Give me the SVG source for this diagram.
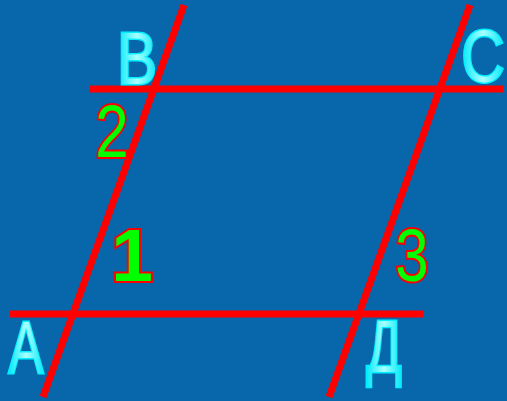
<svg xmlns="http://www.w3.org/2000/svg" width="507" height="401" viewBox="0 0 507 401">
<defs>
<linearGradient id="cy" x1="0" y1="0" x2="1" y2="0">
<stop offset="0" stop-color="#00e8f8"/>
<stop offset="0.5" stop-color="#aaffff"/>
<stop offset="1" stop-color="#00e8f8"/>
</linearGradient>
</defs>
<style>
.ln{stroke:#ff0000;stroke-width:7;fill:none}
.lt{font-family:"Liberation Sans",Arial,sans-serif;font-size:75px;fill:url(#cy);stroke:#00f0ff;stroke-width:3;paint-order:stroke;text-anchor:middle}
.nm{font-family:"Liberation Sans",Arial,sans-serif;font-size:75px;fill:#00ff00;stroke:#ff0000;stroke-width:4;paint-order:stroke;text-anchor:middle}
</style>
<rect width="507" height="401" fill="#0866aa"/>
<g id="connectors">
<line class="ln" x1="90" y1="89" x2="503" y2="89"/>
<line class="ln" x1="10" y1="314" x2="423" y2="314"/>
<line class="ln" x1="184" y1="5" x2="43" y2="397"/>
<line class="ln" x1="470" y1="5" x2="329" y2="397"/>
</g>
<g id="B"><text class="lt" transform="translate(137,84) scale(0.8,1)">B</text></g>
<g id="C"><text class="lt" transform="translate(483,82) scale(0.8,1)">C</text></g>
<g id="A"><text class="lt" transform="translate(26,373) scale(0.7,1)">A</text></g>
<g id="D"><text class="lt" transform="translate(384,372) scale(0.7,1)">Д</text></g>
<g id="n2"><text class="nm" transform="translate(112,157) scale(0.8,1)">2</text></g>
<g id="n1"><text class="nm" style="font-weight:bold" transform="translate(132,281)">1</text></g>
<g id="n3"><text class="nm" transform="translate(412,281) scale(0.8,1)">3</text></g>
</svg>
